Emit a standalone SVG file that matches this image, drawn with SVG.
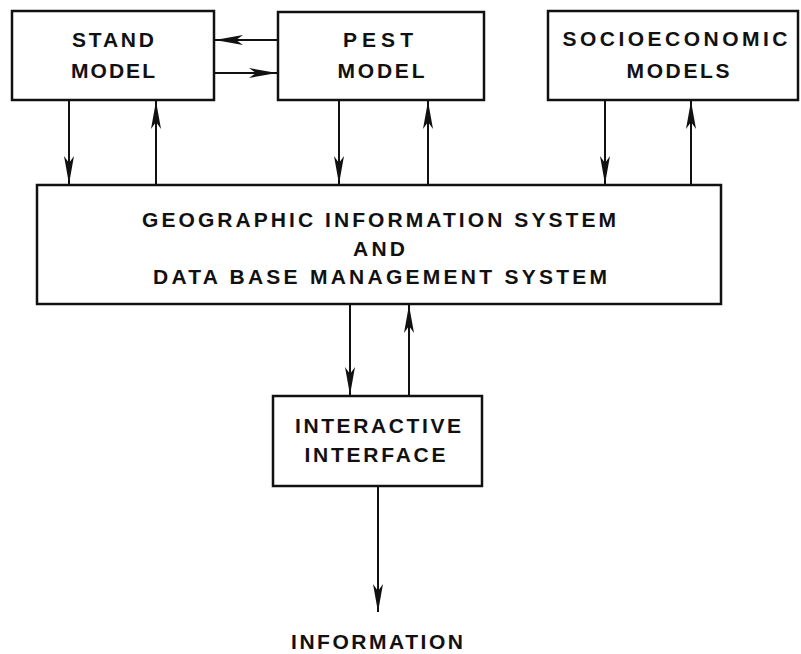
<svg xmlns="http://www.w3.org/2000/svg" width="801" height="654" viewBox="0 0 801 654">
  <defs>
    <marker id="arrow" markerUnits="userSpaceOnUse" markerWidth="32" markerHeight="14" viewBox="-30 -7 32 14" refX="0" refY="0" orient="auto">
      <path d="M0,0 L-28,-5 L-21,0 L-28,5 Z" fill="#111"/>
    </marker>
  </defs>
  <style>
    .box { fill: #fff; stroke: #111; stroke-width: 2.5; }
    .lbl { font-family: "Liberation Sans", Arial, sans-serif; font-weight: bold; font-size: 21px; fill: #111; text-anchor: middle; }
    .edge { stroke: #111; stroke-width: 2; fill: none; marker-end: url(#arrow); }
  </style>
  <rect width="801" height="654" fill="#fff"/>

  <g id="connectors">
    <!-- stand <-> pest -->
    <line class="edge" x1="278" y1="40" x2="215" y2="40"/>
    <line class="edge" x1="214" y1="73" x2="277" y2="73"/>
    <!-- stand <-> GIS -->
    <line class="edge" x1="69" y1="100" x2="69" y2="184"/>
    <line class="edge" x1="156" y1="185" x2="156" y2="101"/>
    <!-- pest <-> GIS -->
    <line class="edge" x1="339" y1="100" x2="339" y2="184"/>
    <line class="edge" x1="428" y1="185" x2="428" y2="101"/>
    <!-- socioeconomic <-> GIS -->
    <line class="edge" x1="605" y1="100" x2="605" y2="184"/>
    <line class="edge" x1="691" y1="185" x2="691" y2="101"/>
    <!-- GIS <-> interface -->
    <line class="edge" x1="350" y1="304" x2="350" y2="395"/>
    <line class="edge" x1="409" y1="396" x2="409" y2="305"/>
    <!-- interface -> information -->
    <line class="edge" x1="378" y1="486" x2="378" y2="612"/>
  </g>

  <g id="stand-model">
    <rect class="box" x="12" y="11" width="202" height="89"/>
    <text class="lbl" x="113" y="47" textLength="82" lengthAdjust="spacing">STAND</text>
    <text class="lbl" x="113" y="78" textLength="84" lengthAdjust="spacing">MODEL</text>
  </g>

  <g id="pest-model">
    <rect class="box" x="278" y="12" width="206" height="88"/>
    <text class="lbl" x="378" y="47" textLength="70" lengthAdjust="spacing">PEST</text>
    <text class="lbl" x="381" y="78" textLength="87" lengthAdjust="spacing">MODEL</text>
  </g>

  <g id="socioeconomic-models">
    <rect class="box" x="548" y="11" width="250" height="89"/>
    <text class="lbl" x="675" y="46" textLength="225" lengthAdjust="spacing">SOCIOECONOMIC</text>
    <text class="lbl" x="678" y="78" textLength="103" lengthAdjust="spacing">MODELS</text>
  </g>

  <g id="gis-dbms">
    <rect class="box" x="37" y="185" width="684" height="119"/>
    <text class="lbl" x="379" y="227" textLength="474" lengthAdjust="spacing">GEOGRAPHIC INFORMATION SYSTEM</text>
    <text class="lbl" x="379" y="256" textLength="52" lengthAdjust="spacing">AND</text>
    <text class="lbl" x="380" y="284" textLength="454" lengthAdjust="spacing">DATA BASE MANAGEMENT SYSTEM</text>
  </g>

  <g id="interactive-interface">
    <rect class="box" x="273" y="396" width="209" height="90"/>
    <text class="lbl" x="378" y="433" textLength="166" lengthAdjust="spacing">INTERACTIVE</text>
    <text class="lbl" x="375" y="462" textLength="141" lengthAdjust="spacing">INTERFACE</text>
  </g>

  <g id="information">
    <text class="lbl" x="377" y="649" textLength="172" lengthAdjust="spacing">INFORMATION</text>
  </g>
</svg>
